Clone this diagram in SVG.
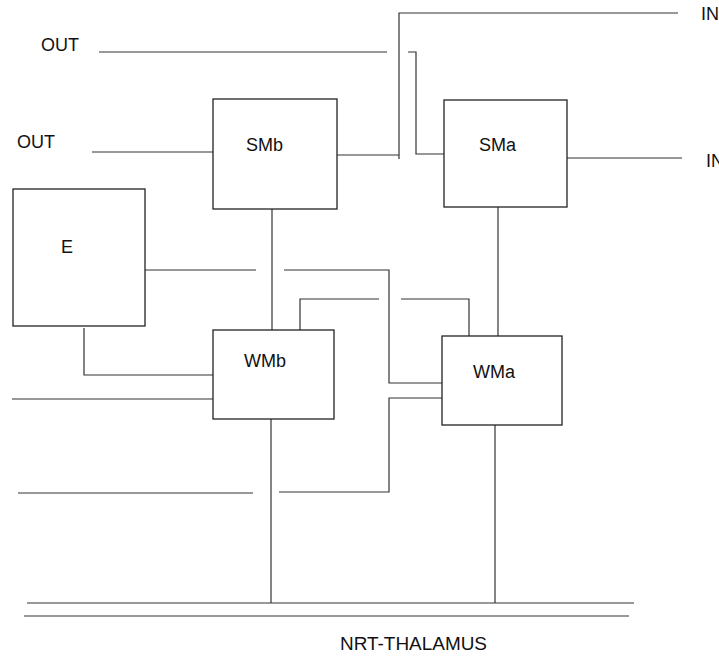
<svg xmlns="http://www.w3.org/2000/svg" width="719" height="656" viewBox="0 0 719 656">
  <style>
    .box { fill: #fff; stroke: #222; stroke-width: 1.3; }
    .wire { fill: none; stroke: #333; stroke-width: 1.2; }
    .lbl { font-family: "Liberation Sans", Arial, sans-serif; font-size: 18px; fill: #111; }
  </style>
  <rect width="719" height="656" fill="#fff"/>

  <g id="connectors">
    <!-- outputs -->
    <line class="wire" x1="99" y1="52" x2="387" y2="52"/>
    <line class="wire" x1="92" y1="152" x2="213" y2="152"/>
    <!-- inputs -->
    <polyline class="wire" points="678,13 399,13 399,159"/>
    <line class="wire" x1="337" y1="155" x2="399" y2="155"/>
    <polyline class="wire" points="408,52 416,52 416,154 444,154"/>
    <line class="wire" x1="567" y1="158" x2="682" y2="158"/>
    <!-- SMb to WMb, SMa to WMa -->
    <line class="wire" x1="272" y1="209" x2="272" y2="330"/>
    <line class="wire" x1="498" y1="207" x2="498" y2="336"/>
    <!-- E links -->
    <line class="wire" x1="145" y1="270" x2="256" y2="270"/>
    <polyline class="wire" points="284,270 389,270 389,383 442,383"/>
    <polyline class="wire" points="84,328 84,375 213,375"/>
    <line class="wire" x1="12" y1="399" x2="213" y2="399"/>
    <!-- WMb / WMa cross links -->
    <polyline class="wire" points="300,330 300,299 379,299"/>
    <polyline class="wire" points="401,299 469,299 469,336"/>
    <polyline class="wire" points="442,398 389,398 389,492 279,492"/>
    <line class="wire" x1="18" y1="493" x2="253" y2="493"/>
    <!-- to NRT-thalamus -->
    <line class="wire" x1="271" y1="419" x2="271" y2="603"/>
    <line class="wire" x1="495" y1="425" x2="495" y2="603"/>
    <line class="wire" x1="27" y1="603" x2="634" y2="603"/>
    <line class="wire" x1="24" y1="616" x2="629" y2="616"/>
  </g>

  <g id="E">
    <rect class="box" x="13" y="189" width="132" height="137"/>
    <text class="lbl" x="61" y="253">E</text>
  </g>
  <g id="SMb">
    <rect class="box" x="213" y="99" width="124" height="110"/>
    <text class="lbl" x="246" y="151">SMb</text>
  </g>
  <g id="SMa">
    <rect class="box" x="444" y="100" width="123" height="107"/>
    <text class="lbl" x="479" y="151">SMa</text>
  </g>
  <g id="WMb">
    <rect class="box" x="213" y="330" width="121" height="89"/>
    <text class="lbl" x="244" y="367">WMb</text>
  </g>
  <g id="WMa">
    <rect class="box" x="442" y="336" width="120" height="89"/>
    <text class="lbl" x="473" y="378">WMa</text>
  </g>

  <g id="labels">
    <text class="lbl" x="41" y="51">OUT</text>
    <text class="lbl" x="17" y="148">OUT</text>
    <text class="lbl" x="701" y="20">IN</text>
    <text class="lbl" x="706" y="167">IN</text>
    <text class="lbl" x="340" y="650" textLength="147" lengthAdjust="spacingAndGlyphs">NRT-THALAMUS</text>
  </g>
</svg>
